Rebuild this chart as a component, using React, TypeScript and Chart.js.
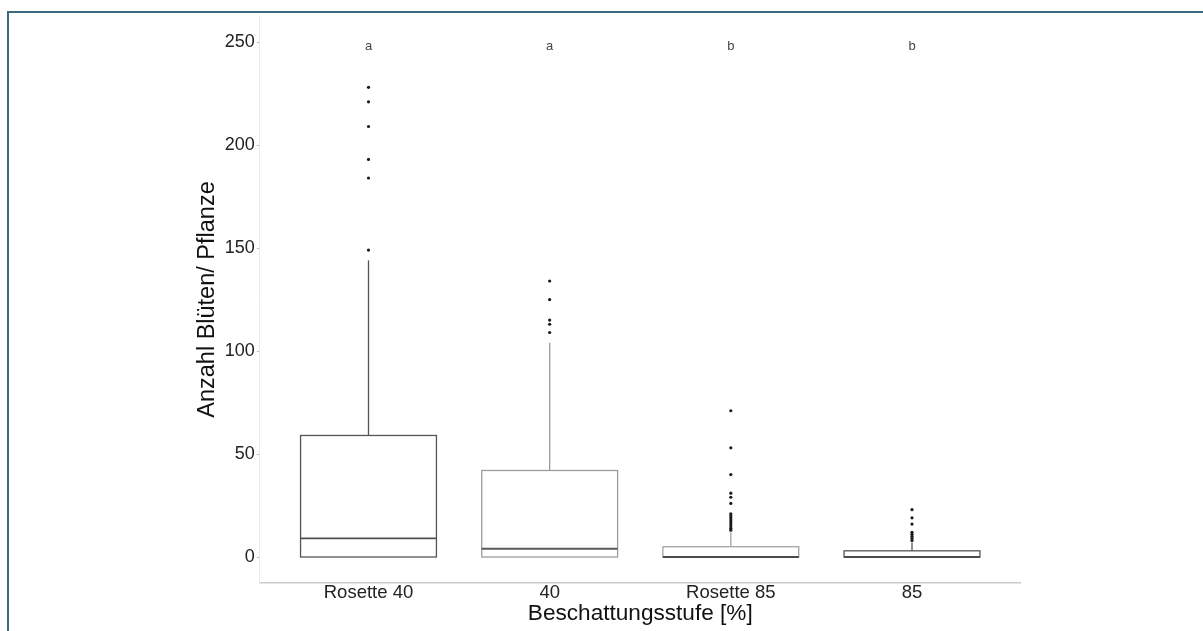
import React, { useEffect, useRef } from "react";
import { Chart, registerables } from "chart.js";

Chart.register(...registerables);

// ---- data ----
const CATEGORIES = ["Rosette 40", "40", "Rosette 85", "85"];
const Q1 = [0, 0, 0, 0];
const MEDIAN = [9, 4, 0, 0];
const Q3 = [59, 42, 5, 3];
const WHISKER_LOW = [0, 0, 0, 0];
const WHISKER_HIGH = [144, 104, 12, 7];
const OUTLIERS_ROSETTE_40 = [228, 221, 209, 193, 184, 149];
const OUTLIERS_40 = [134, 125, 115, 113, 109];
const OUTLIERS_ROSETTE_85 = [71, 53, 40, 31, 29, 26, 21, 20, 19, 18, 17, 16, 15, 14, 13];
const OUTLIERS_85 = [23, 19, 16, 12, 11, 10, 9, 8];
const SIG_LETTERS = ["a", "a", "b", "b"];
const SIG_LETTER_Y = 248;
const Y_TICKS = [0, 50, 100, 150, 200, 250];
const Y_TITLE = "Anzahl Blüten/ Pflanze";
const X_TITLE = "Beschattungsstufe [%]";

// ---- styles ----
const FONT = "'Liberation Sans', Arial, sans-serif";
const BOX_HALF = 0.375;
const BOX_COLORS = ["#555555", "#9c9c9c", "#a4a4a4", "#555555"];
const MEDIAN_COLORS = ["#505050", "#5a5a5a", "#4a4a4a", "#4a4a4a"];

const OUTLIER_GROUPS = [OUTLIERS_ROSETTE_40, OUTLIERS_40, OUTLIERS_ROSETTE_85, OUTLIERS_85];

const boxPlugin = {
  id: "boxplots",
  beforeDatasetsDraw(chart: any) {
    const { ctx } = chart;
    const x = chart.scales.x;
    const y = chart.scales.y;
    ctx.save();
    CATEGORIES.forEach((_, i) => {
      const cx = x.getPixelForValue(i + 1);
      const l = x.getPixelForValue(i + 1 - BOX_HALF);
      const r = x.getPixelForValue(i + 1 + BOX_HALF);
      const yQ1 = y.getPixelForValue(Q1[i]);
      const yQ3 = y.getPixelForValue(Q3[i]);
      const yMed = y.getPixelForValue(MEDIAN[i]);
      const yHi = y.getPixelForValue(WHISKER_HIGH[i]);
      const yLo = y.getPixelForValue(WHISKER_LOW[i]);
      ctx.strokeStyle = BOX_COLORS[i];
      ctx.lineWidth = 1.3;
      ctx.beginPath();
      ctx.moveTo(cx, yQ3);
      ctx.lineTo(cx, yHi);
      ctx.moveTo(cx, yQ1);
      ctx.lineTo(cx, yLo);
      ctx.stroke();
      ctx.fillStyle = "#ffffff";
      ctx.fillRect(l, yQ3, r - l, yQ1 - yQ3);
      ctx.strokeRect(l, yQ3, r - l, yQ1 - yQ3);
      ctx.strokeStyle = MEDIAN_COLORS[i];
      ctx.lineWidth = 1.8;
      ctx.beginPath();
      ctx.moveTo(l, yMed);
      ctx.lineTo(r, yMed);
      ctx.stroke();
    });
    ctx.restore();
  },
  afterDatasetsDraw(chart: any) {
    const { ctx } = chart;
    const x = chart.scales.x;
    const y = chart.scales.y;
    ctx.save();
    ctx.font = `13px ${FONT}`;
    ctx.fillStyle = "#444444";
    ctx.textAlign = "center";
    ctx.textBaseline = "middle";
    SIG_LETTERS.forEach((s, i) => {
      ctx.fillText(s, x.getPixelForValue(i + 1), y.getPixelForValue(SIG_LETTER_Y));
    });
    ctx.restore();
  },
};

export default function App() {
  const ref = useRef<HTMLCanvasElement | null>(null);

  useEffect(() => {
    if (!ref.current) return;
    const points: { x: number; y: number }[] = [];
    OUTLIER_GROUPS.forEach((g, i) => g.forEach((v) => points.push({ x: i + 1, y: v })));

    const chart = new Chart(ref.current, {
      type: "scatter",
      data: {
        datasets: [
          {
            data: points,
            pointRadius: 1.6,
            pointHoverRadius: 1.6,
            backgroundColor: "#1a1a1a",
            borderWidth: 0,
          },
        ],
      },
      options: {
        animation: false,
        responsive: false,
        events: [],
        layout: { padding: { left: 0, right: 182.3, top: 16.3, bottom: 0 } },
        plugins: {
          legend: { display: false },
          tooltip: { enabled: false },
        },
        scales: {
          x: {
            type: "linear",
            min: 0.4,
            max: 4.6,
            afterBuildTicks: (scale: any) => {
              scale.ticks = CATEGORIES.map((_, i) => ({ value: i + 1 }));
            },
            afterFit: (scale: any) => {
              scale.height = 48.25;
            },
            grid: { display: false, drawTicks: false },
            border: { display: true, color: "#cccccc", width: 1.5 },
            ticks: {
              padding: 0,
              color: "#222222",
              font: { family: FONT, size: 18.5, lineHeight: 1.1 },
              maxRotation: 0,
              autoSkip: false,
              callback: (v: any) => CATEGORIES[Math.round(Number(v)) - 1] ?? "",
            },
            title: {
              display: true,
              text: X_TITLE,
              color: "#111111",
              font: { family: FONT, size: 22.6, lineHeight: 1.2 },
              padding: { top: 0, bottom: 3.57 },
            },
          },
          y: {
            type: "linear",
            min: -12.5,
            max: 262.5,
            afterBuildTicks: (scale: any) => {
              scale.ticks = Y_TICKS.map((v) => ({ value: v }));
            },
            afterFit: (scale: any) => {
              scale.width = 259.8;
            },
            grid: {
              display: true,
              drawOnChartArea: false,
              drawTicks: true,
              tickLength: 3,
              color: "#bbbbbb",
            },
            border: { display: true, color: "#ebebeb", width: 1 },
            ticks: {
              padding: 2,
              color: "#222222",
              font: { family: FONT, size: 18, lineHeight: 1.2 },
              callback: (v: any) => String(v),
            },
            title: {
              display: true,
              text: Y_TITLE,
              color: "#111111",
              font: { family: FONT, size: 23.5, lineHeight: 1.2 },
              padding: { top: 193.8, bottom: 0 },
            },
          },
        },
      },
      plugins: [boxPlugin],
    } as any);

    return () => chart.destroy();
  }, []);

  return (
    <div style={{ position: "fixed", left: 0, top: 0, width: 1203, height: 631, background: "#fff", overflow: "hidden" }}>
      <div
        style={{
          position: "absolute",
          left: 7,
          top: 11,
          width: 1300,
          height: 700,
          borderTop: "2px solid #3e687e",
          borderLeft: "2px solid #3e687e",
        }}
      />
      <canvas ref={ref} width={1203} height={631} style={{ position: "absolute", left: 0, top: 0, width: 1203, height: 631 }} />
    </div>
  );
}
